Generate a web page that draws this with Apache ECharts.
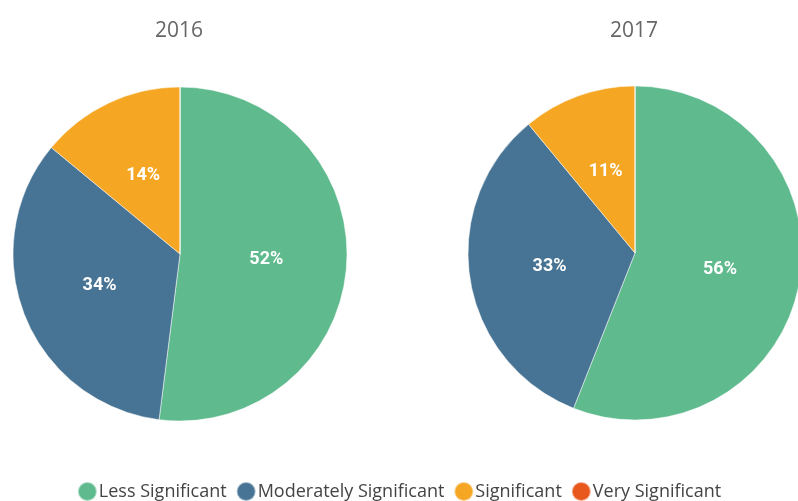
<!DOCTYPE html>
<html>
<head>
<meta charset="utf-8">
<script src="https://cdn.jsdelivr.net/npm/echarts@6/dist/echarts.min.js"></script>
<style>
  html, body { margin: 0; padding: 0; background: #fff; }
  #chart { width: 798px; height: 501px; }
</style>
</head>
<body>
<div id="chart"></div>
<script>
const categories = ["Less Significant", "Moderately Significant", "Significant", "Very Significant"]
const years = ["2016", "2017"]
const values2016 = [52, 34, 14, 0]
const values2017 = [56, 33, 11, 0]
const colors = ["#5fba8e", "#477494", "#f5a623", "#e8581c"]

const chart = echarts.init(document.getElementById("chart"))

// one pie per year, placed side by side
const centers = [[180, 254], [635, 253]]
const allValues = [values2016, values2017]

const series = allValues.map((vals, i) => ({
  type: "pie",
  name: years[i],
  center: centers[i],
  radius: 167,
  startAngle: 90,
  clockwise: true,
  avoidLabelOverlap: false,
  animation: false,
  itemStyle: { borderColor: "rgba(255,255,255,0.5)", borderWidth: 1 },
  label: {
    show: true,
    position: "inside",
    formatter: (p) => (p.value > 0 ? p.value + "%" : ""),
    color: "#fff",
    fontFamily: "Roboto",
    fontWeight: "bold",
    fontSize: 18,
  },
  labelLine: { show: false },
  emphasis: { disabled: true },
  data: categories.map((name, j) => ({ name, value: vals[j] })),
}))

const option = {
  color: colors,
  title: years.map((y, i) => ({
    text: y,
    left: centers[i][0] - 6,
    top: 16,
    textAlign: "center",
    textStyle: { color: "#666", fontSize: 21, fontWeight: "normal", fontFamily: "Open Sans" },
  })),
  legend: {
    data: categories,
    top: 476,
    left: "center",
    icon: "circle",
    itemWidth: 19,
    itemHeight: 19,
    itemGap: 9,
    textStyle: { color: "#444", fontSize: 18, fontFamily: "Open Sans", padding: [0, 0, 0, -3] },
  },
  series,
}

chart.setOption(option)
</script>
</body>
</html>
